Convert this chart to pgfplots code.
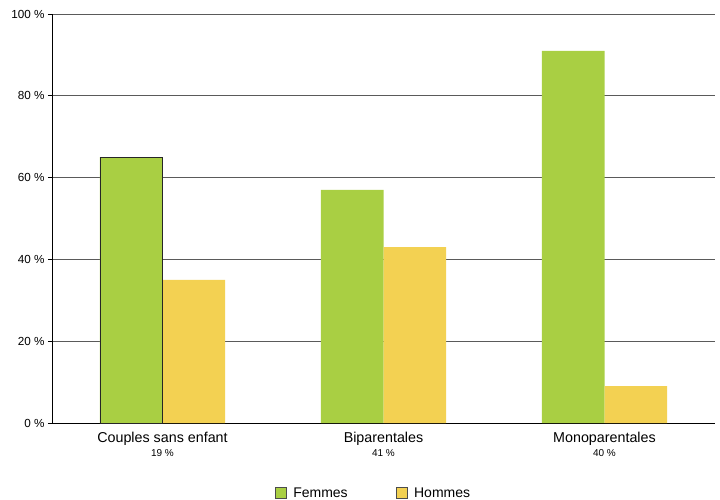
\documentclass[border=0pt]{standalone}
\usepackage{pgfplots}
\pgfplotsset{compat=1.18}
\usepackage{fontspec}
\setmainfont{Liberation Sans}
\usetikzlibrary{calc}
\definecolor{fgreen}{HTML}{A9CF43}
\definecolor{hyellow}{HTML}{F3D152}
\definecolor{gridc}{HTML}{5A5A5A}
\begin{document}
\begin{tikzpicture}
\begin{axis}[
  name=ax,
  scale only axis,
  width=663bp, height=409bp,
  xmin=-0.5, xmax=2.5,
  ymin=0, ymax=100,
  axis x line*=bottom,
  axis y line*=left,
  axis line style={-, black, line width=0.8pt},
  xtick={0,1,2},
  xticklabels={{Couples sans enfant\\[0pt]{\fontsize{10bp}{11bp}\selectfont 19 \%}},
               {Biparentales\\[0pt]{\fontsize{10bp}{11bp}\selectfont 41 \%}},
               {Monoparentales\\[0pt]{\fontsize{10bp}{11bp}\selectfont 40 \%}}},
  xticklabel style={align=center, font=\fontsize{14.3bp}{14bp}\selectfont, yshift=-2bp},
  major x tick style={draw=none},
  extra x ticks={0.5,1.5},
  extra x tick labels={},
  extra x tick style={major tick length=5bp, tick style={black, line width=0.8pt}},
  ytick={0,20,40,60,80,100},
  yticklabels={0~\%,20~\%,40~\%,60~\%,80~\%,100~\%},
  yticklabel style={font=\fontsize{11.7bp}{12bp}\selectfont},
  tick align=outside,
  major tick length=4bp,
  tick style={black, line width=0.8pt},
  ymajorgrids,
  grid style={gridc, line width=0.9pt},
  /pgf/number format/assume math mode=true,
  legend style={at={(0.5,-0.171)}, anchor=center, xshift=-10bp, draw=none,
    legend columns=2, font=\fontsize{14bp}{15bp}\selectfont,
    /tikz/every even column/.append style={column sep=46bp}},
  legend image code/.code={\draw[#1, draw=black!70, line width=0.8pt] (0bp,-5.5bp) rectangle (11bp,5.5bp); \path (16bp,0bp);},
]
\addplot[ybar, bar width=0.283, bar shift=-0.1415, fill=fgreen, draw=none]
  coordinates {(0,65) (1,57) (2,91)};
\addlegendentry{Femmes}
\addplot[ybar, bar width=0.283, bar shift=0.1415, fill=hyellow, draw=none]
  coordinates {(0,35) (1,43) (2,9)};
\addlegendentry{Hommes}
\addplot[ybar, bar width=0.283, bar shift=-0.1415, fill=fgreen, draw=black!85, line width=0.8pt, forget plot]
  coordinates {(0,65)};
\end{axis}
\pgfresetboundingbox
\path[use as bounding box] ($(ax.south west)+(-52bp,-77bp)$) rectangle ($(ax.north east)+(5bp,14bp)$);
\end{tikzpicture}
\end{document}
